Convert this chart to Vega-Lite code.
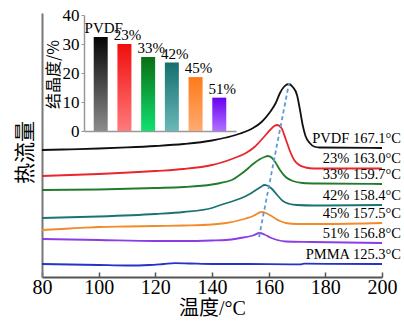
{
  "$schema": "https://vega.github.io/schema/vega-lite/v6.json",
  "width": 340,
  "height": 264,
  "autosize": "none",
  "padding": {"left": 42, "top": 13, "right": 22, "bottom": 47},
  "background": "white",
  "config": {"view": {"stroke": null}, "font": "Liberation Serif"},
  "datasets": {
    "curves": [
      {"s":"PVDF","T":80,"v":127},{"s":"PVDF","T":90,"v":127.7},{"s":"PVDF","T":100,"v":128.5},{"s":"PVDF","T":110,"v":129.6},{"s":"PVDF","T":120,"v":131},{"s":"PVDF","T":130,"v":133},{"s":"PVDF","T":140,"v":136.5},{"s":"PVDF","T":145,"v":139.5},{"s":"PVDF","T":150,"v":143.5},{"s":"PVDF","T":154.5,"v":149},{"s":"PVDF","T":157.5,"v":155},{"s":"PVDF","T":160.5,"v":165},{"s":"PVDF","T":162.5,"v":174},{"s":"PVDF","T":164,"v":184},{"s":"PVDF","T":165.5,"v":190.5},{"s":"PVDF","T":167.1,"v":193},{"s":"PVDF","T":168.5,"v":190},{"s":"PVDF","T":170,"v":182},{"s":"PVDF","T":171,"v":168},{"s":"PVDF","T":172,"v":152},{"s":"PVDF","T":173,"v":141},{"s":"PVDF","T":174.5,"v":134},{"s":"PVDF","T":176,"v":130.5},{"s":"PVDF","T":178,"v":129.5},{"s":"PVDF","T":200,"v":129},
      {"s":"23%","T":80,"v":101},{"s":"23%","T":100,"v":103},{"s":"23%","T":120,"v":106},{"s":"23%","T":130,"v":108},{"s":"23%","T":140,"v":112},{"s":"23%","T":142.8,"v":114},{"s":"23%","T":147.5,"v":118.5},{"s":"23%","T":152,"v":124},{"s":"23%","T":155,"v":130},{"s":"23%","T":158,"v":139},{"s":"23%","T":160.5,"v":147},{"s":"23%","T":162,"v":151},{"s":"23%","T":163,"v":152},{"s":"23%","T":164.5,"v":149},{"s":"23%","T":166,"v":138},{"s":"23%","T":167.5,"v":126},{"s":"23%","T":169,"v":117},{"s":"23%","T":170.5,"v":112.5},{"s":"23%","T":173,"v":109.5},{"s":"23%","T":176,"v":108.5},{"s":"23%","T":200,"v":108.5},
      {"s":"33%","T":80,"v":87},{"s":"33%","T":100,"v":87.5},{"s":"33%","T":120,"v":89},{"s":"33%","T":130,"v":90},{"s":"33%","T":140,"v":92.5},{"s":"33%","T":143,"v":94},{"s":"33%","T":147,"v":97},{"s":"33%","T":150,"v":102.5},{"s":"33%","T":152.5,"v":108},{"s":"33%","T":154.5,"v":113},{"s":"33%","T":157,"v":118},{"s":"33%","T":158.5,"v":120},{"s":"33%","T":159.7,"v":121},{"s":"33%","T":161,"v":119.5},{"s":"33%","T":162.5,"v":114},{"s":"33%","T":164,"v":107},{"s":"33%","T":166,"v":100},{"s":"33%","T":168.5,"v":96},{"s":"33%","T":172,"v":94},{"s":"33%","T":178,"v":93.5},{"s":"33%","T":200,"v":93},
      {"s":"42%","T":80,"v":59},{"s":"42%","T":100,"v":60.5},{"s":"42%","T":120,"v":63},{"s":"42%","T":130,"v":65},{"s":"42%","T":140,"v":69},{"s":"42%","T":143,"v":72},{"s":"42%","T":147,"v":75.5},{"s":"42%","T":150,"v":78.5},{"s":"42%","T":153,"v":82.5},{"s":"42%","T":155.5,"v":87},{"s":"42%","T":157.5,"v":90.5},{"s":"42%","T":158.4,"v":92},{"s":"42%","T":159.5,"v":91.5},{"s":"42%","T":161,"v":88.5},{"s":"42%","T":163,"v":82},{"s":"42%","T":165,"v":76},{"s":"42%","T":167.5,"v":73},{"s":"42%","T":170,"v":72},{"s":"42%","T":176,"v":71.5},{"s":"42%","T":200,"v":72},
      {"s":"45%","T":80,"v":47},{"s":"45%","T":90,"v":48.5},{"s":"45%","T":100,"v":50},{"s":"45%","T":110,"v":50.5},{"s":"45%","T":120,"v":51},{"s":"45%","T":130,"v":51.5},{"s":"45%","T":140,"v":52.5},{"s":"45%","T":145,"v":54},{"s":"45%","T":150,"v":57},{"s":"45%","T":154.5,"v":61},{"s":"45%","T":157.5,"v":65},{"s":"45%","T":159,"v":64},{"s":"45%","T":161.5,"v":60},{"s":"45%","T":164,"v":56},{"s":"45%","T":166,"v":54},{"s":"45%","T":170,"v":53},{"s":"45%","T":180,"v":53},{"s":"45%","T":200,"v":54},
      {"s":"51%","T":80,"v":38},{"s":"51%","T":100,"v":37},{"s":"51%","T":120,"v":36},{"s":"51%","T":130,"v":36},{"s":"51%","T":140,"v":36.5},{"s":"51%","T":145,"v":37},{"s":"51%","T":150,"v":39},{"s":"51%","T":154.5,"v":41.5},{"s":"51%","T":156.8,"v":44},{"s":"51%","T":158.5,"v":42.5},{"s":"51%","T":160.5,"v":39.5},{"s":"51%","T":163,"v":37},{"s":"51%","T":166,"v":35.5},{"s":"51%","T":175,"v":35},{"s":"51%","T":200,"v":34},
      {"s":"PMMA","T":80,"v":13},{"s":"PMMA","T":100,"v":12},{"s":"PMMA","T":110,"v":11.5},{"s":"PMMA","T":118,"v":12},{"s":"PMMA","T":123,"v":13},{"s":"PMMA","T":127,"v":13.8},{"s":"PMMA","T":132,"v":13.5},{"s":"PMMA","T":140,"v":13},{"s":"PMMA","T":150,"v":13},{"s":"PMMA","T":160,"v":12.8},{"s":"PMMA","T":171,"v":12.6},{"s":"PMMA","T":172.5,"v":13.3},{"s":"PMMA","T":180,"v":13.2},{"s":"PMMA","T":200,"v":13}
    ],
    "labels": [
      {"label":"PVDF 167.1°C","T":200,"v":129},
      {"label":"23% 163.0°C","T":200,"v":109},
      {"label":"33% 159.7°C","T":200,"v":93},
      {"label":"42% 158.4°C","T":200,"v":72},
      {"label":"45% 157.5°C","T":200,"v":54},
      {"label":"51% 156.8°C","T":200,"v":34},
      {"label":"PMMA 125.3°C","T":200,"v":13}
    ],
    "peakline": [{"T":156.6,"v":40},{"T":167.2,"v":194}],
    "bars": [
      {"name":"PVDF","val":32.4},
      {"name":"23%","val":30.0},
      {"name":"33%","val":25.5},
      {"name":"42%","val":23.6},
      {"name":"45%","val":18.6},
      {"name":"51%","val":11.5}
    ]
  },
  "layer": [
    {
      "layer": [
        {
          "data": {"name": "curves"},
          "mark": {"type": "line", "strokeWidth": 1.8, "interpolate": "monotone"},
          "encoding": {
            "x": {"field": "T", "type": "quantitative", "scale": {"domain": [80, 200], "nice": false},
              "axis": {"values": [80,90,100,110,120,130,140,150,160,170,180,190,200],
                "labelExpr": "datum.value % 20 === 0 ? datum.label : ''",
                "title": "温度/°C", "titleFont": "Liberation Serif, Noto Sans CJK SC", "titleFontSize": 20, "titleFontWeight": "normal", "titleColor": "black",
                "labelFont": "Liberation Serif", "labelFontSize": 20, "labelColor": "black", "labelOverlap": false, "labelFlush": false,
                "domainColor": "#555", "domainWidth": 2, "tickColor": "#555", "tickWidth": 1.5, "tickSize": -5,
                "labelPadding": 5, "titlePadding": 1, "grid": false}},
            "y": {"field": "v", "type": "quantitative", "scale": {"domain": [0, 264], "nice": false},
              "axis": {"title": "热流量", "titleFont": "Noto Sans CJK SC", "titleFontSize": 21, "titleFontWeight": "normal", "titleColor": "black",
                "ticks": false, "labels": false, "domainColor": "#777", "domainWidth": 2, "titlePadding": 7, "titleY": 139, "grid": false}},
            "color": {"field": "s", "type": "nominal", "legend": null,
              "scale": {"domain": ["PVDF","23%","33%","42%","45%","51%","PMMA"],
                "range": ["#111111","#e8262b","#237a2b","#1b7373","#f28a2a","#8a3ce6","#2433c8"]}}
          }
        },
        {
          "data": {"name": "peakline"},
          "mark": {"type": "line", "color": "#5b9bd5", "strokeDash": [4, 3], "strokeWidth": 1.8},
          "encoding": {"x": {"field": "T", "type": "quantitative"}, "y": {"field": "v", "type": "quantitative"}}
        },
        {
          "data": {"name": "labels"},
          "mark": {"type": "text", "align": "right", "baseline": "middle", "dx": 19, "dy": -9, "fontSize": 14.5, "font": "Liberation Serif", "color": "black"},
          "encoding": {"x": {"field": "T", "type": "quantitative"}, "y": {"field": "v", "type": "quantitative"}, "text": {"field": "label"}}
        }
      ]
    },
    {
      "data": {"name": "bars"},
      "encoding": {
        "x": {"field": "name", "type": "nominal", "sort": null,
          "scale": {"range": [42, 194], "paddingInner": 0.41, "paddingOuter": 0.41},
          "axis": {"orient": "bottom", "offset": -146, "labels": false, "ticks": false, "title": null, "domainColor": "#999", "domainWidth": 1.5}},
        "y": {"field": "val", "type": "quantitative",
          "scale": {"domain": [0, 40], "range": [118, 2], "nice": false},
          "axis": {"orient": "left", "offset": -42, "values": [0,10,20,30,40], "grid": false,
            "title": "结晶度/%", "titleFont": "Noto Sans CJK SC, Liberation Serif", "titleFontSize": 16, "titleFontWeight": "normal", "titleColor": "black", "titlePadding": 1, "titleY": 61,
            "labelFont": "Liberation Serif", "labelFontSize": 17, "labelColor": "black", "labelPadding": 2,
            "domainColor": "#999", "domainWidth": 1.5, "tickColor": "#999", "tickSize": 3}}
      },
      "layer": [
        {"transform": [{"filter": "datum.name === 'PVDF'"}], "mark": {"type": "bar", "color": {"gradient": "linear", "x1": 0, "y1": 0, "x2": 0, "y2": 1, "stops": [{"offset": 0, "color": "#050505"}, {"offset": 1, "color": "#8c8c8c"}]}}},
        {"transform": [{"filter": "datum.name === '23%'"}], "mark": {"type": "bar", "color": {"gradient": "linear", "x1": 0, "y1": 0, "x2": 0, "y2": 1, "stops": [{"offset": 0, "color": "#f20d0d"}, {"offset": 1, "color": "#ff7a7a"}]}}},
        {"transform": [{"filter": "datum.name === '33%'"}], "mark": {"type": "bar", "color": {"gradient": "linear", "x1": 0, "y1": 0, "x2": 0, "y2": 1, "stops": [{"offset": 0, "color": "#0b6e14"}, {"offset": 1, "color": "#10e070"}]}}},
        {"transform": [{"filter": "datum.name === '42%'"}], "mark": {"type": "bar", "color": {"gradient": "linear", "x1": 0, "y1": 0, "x2": 0, "y2": 1, "stops": [{"offset": 0, "color": "#156e6e"}, {"offset": 1, "color": "#6ab8b8"}]}}},
        {"transform": [{"filter": "datum.name === '45%'"}], "mark": {"type": "bar", "color": {"gradient": "linear", "x1": 0, "y1": 0, "x2": 0, "y2": 1, "stops": [{"offset": 0, "color": "#ff7a1a"}, {"offset": 1, "color": "#ffaa70"}]}}},
        {"transform": [{"filter": "datum.name === '51%'"}], "mark": {"type": "bar", "color": {"gradient": "linear", "x1": 0, "y1": 0, "x2": 0, "y2": 1, "stops": [{"offset": 0, "color": "#6a00f0"}, {"offset": 1, "color": "#b070ff"}]}}},
        {"mark": {"type": "text", "baseline": "bottom", "dy": -1, "dx": 3, "fontSize": 15, "font": "Liberation Serif", "color": "black"},
          "encoding": {"text": {"field": "name"}}}
      ]
    }
  ],
  "resolve": {"scale": {"x": "independent", "y": "independent", "color": "independent"}, "axis": {"x": "independent", "y": "independent"}}
}
